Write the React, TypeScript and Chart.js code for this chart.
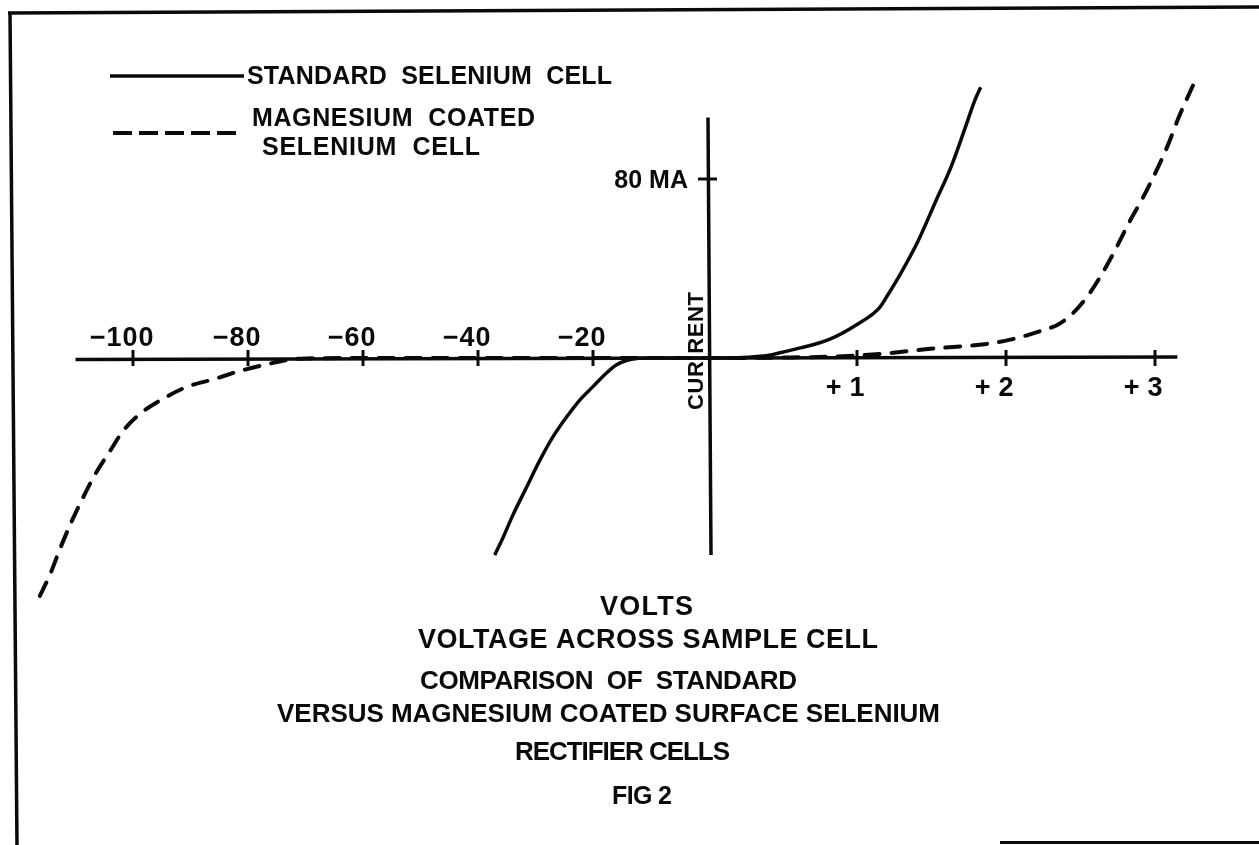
import React, { useEffect, useRef } from "react";
import { Chart, registerables } from "chart.js";

Chart.register(...registerables);

// ---------------- data (volts, milliamps) ----------------
const standardVolts = [
  -37.1, -35.7, -33.9, -31.6, -29.3, -27.0, -24.6, -22.3, -20.0, -17.7, -15.9, -14.2, -12.4, -10.0, 0,
  0.2, 0.35, 0.43, 0.5, 0.62, 0.81, 1.0, 1.15, 1.2, 1.29, 1.41, 1.53, 1.63, 1.72, 1.79, 1.83,
];
const standardCurrent = [
  -88.1, -80.6, -70, -58, -46, -35.4, -26.4, -18.8, -12.8, -6.8, -3.0, -1.1, -0.2, 0, 0,
  0.1, 0.75, 1.5, 2.6, 4.5, 8.2, 15, 22.4, 27.5, 37.4, 52.3, 70.3, 85.2, 101.7, 115, 121,
];
const magnesiumVolts = [
  -116.2, -114.4, -112.7, -110.7, -108.6, -106.6, -104.0, -101.7, -98.8, -95.3, -90.7, -86.0, -81.0, -77.0,
  -73.0, -70.0, -60.0, 0, 0.5, 0.86, 1.15, 1.51, 1.87, 2.03, 2.23, 2.35, 2.44, 2.54, 2.63, 2.73, 2.82, 2.92,
  3.02, 3.09, 3.16, 3.27,
];
const magnesiumCurrent = [
  -106.3, -96.6, -85.3, -73.2, -61.9, -52.1, -41.6, -32.5, -25.0, -19.0, -13.0, -9.5, -5.5, -3.0,
  -0.8, -0.2, 0, 0, 0.2, 0.7, 1.8, 4.2, 6.3, 8.2, 12, 15, 19.4, 27, 36, 47.9, 59.8, 71.8,
  85.2, 95.7, 107.7, 124,
];

const negativeTicks = [-100, -80, -60, -40, -20];
const negativeTickLabels = ["−100", "−80", "−60", "−40", "−20"];
const positiveTicks = [1, 2, 3];
const positiveTickLabels = ["+1", "+2", "+3"];
const currentTicks = [80];
const currentTickLabels = ["80 MA"];
const seriesNames = ["STANDARD SELENIUM CELL", "MAGNESIUM COATED SELENIUM CELL"];
const legendTexts = ["STANDARD  SELENIUM  CELL", "MAGNESIUM  COATED", "SELENIUM  CELL"];
const yAxisTitle = "CUR RENT";
const captionLines = [
  "VOLTS",
  "VOLTAGE ACROSS SAMPLE CELL",
  "COMPARISON  OF  STANDARD",
  "VERSUS MAGNESIUM COATED SURFACE SELENIUM",
  "RECTIFIER CELLS",
  "FIG 2",
];

// axis extents (data units)
const X_AXIS_FROM = -110; // volts
const X_AXIS_TO = 3.15;
const Y_AXIS_FROM = -88; // mA
const Y_AXIS_TO = 107.5;

// ---------------- layout / style ----------------
const W = 1259;
const H = 845;
const INK = "#0a0a0a";
const FONT = '"Liberation Sans", Arial, sans-serif';
// piecewise axis: 20 V per unit on the reverse side, 1 V = 149/115 unit forward
const toAxis = (v: number) => (v < 0 ? v / 20 : (v * 149) / 115);
const X_MIN = -708 / 115;
const X_MAX = (W - 708) / 115;
const Y_MAX = 358 / 2.2375;
const Y_MIN = -(H - 358) / 2.2375;

// text boxes: [left, right, centerY, size]
const legendBoxes: number[][] = [
  [247, 612, 75, 25],
  [252, 535, 117, 25],
  [262, 480, 146, 25],
];
const captionBoxes: number[][] = [
  [600, 693, 605, 27],
  [418, 878, 638, 27],
  [420, 797, 680, 26],
  [277, 940, 713, 26],
  [515, 730, 751, 26],
  [612, 672, 795, 25],
];

function fitText(ctx: CanvasRenderingContext2D, text: string, left: number, right: number, cy: number, size: number) {
  ctx.font = `bold ${size}px ${FONT}`;
  (ctx as any).letterSpacing = "0px";
  const w0 = ctx.measureText(text).width;
  const n = text.length;
  const ls = n > 1 ? (right - left - w0) / (n - 1) : 0;
  (ctx as any).letterSpacing = `${ls}px`;
  ctx.textAlign = "left";
  ctx.textBaseline = "alphabetic";
  ctx.fillText(text, left, cy + size * 0.36);
  (ctx as any).letterSpacing = "0px";
}

const sketchPlugin = {
  id: "sketch",
  beforeDatasetsDraw(chart: any) {
    const { ctx, scales } = chart;
    const px = (v: number) => scales.x.getPixelForValue(toAxis(v));
    const py = (c: number) => scales.y.getPixelForValue(c);
    const x0 = px(0);
    const y0 = py(0);
    ctx.save();
    ctx.strokeStyle = INK;
    ctx.lineCap = "butt";
    ctx.lineWidth = 3.5;
    ctx.beginPath();
    ctx.moveTo(px(X_AXIS_FROM), y0 + 1.5);
    ctx.lineTo(px(X_AXIS_TO), y0 - 1);
    ctx.stroke();
    ctx.beginPath();
    ctx.moveTo(x0, py(Y_AXIS_TO));
    ctx.lineTo(x0 + 3, py(Y_AXIS_FROM));
    ctx.stroke();
    ctx.lineWidth = 3;
    [...negativeTicks, ...positiveTicks].forEach((v) => {
      const tx = px(v);
      ctx.beginPath();
      ctx.moveTo(tx, y0 - 8);
      ctx.lineTo(tx, y0 + 8);
      ctx.stroke();
    });
    currentTicks.forEach((c) => {
      const ty = py(c);
      ctx.beginPath();
      ctx.moveTo(x0 - 10, ty);
      ctx.lineTo(x0 + 9, ty);
      ctx.stroke();
    });
    ctx.restore();
  },
  afterDraw(chart: any) {
    const { ctx, scales } = chart;
    const px = (v: number) => scales.x.getPixelForValue(toAxis(v));
    const py = (c: number) => scales.y.getPixelForValue(c);
    const x0 = px(0);
    const y0 = py(0);
    ctx.save();
    ctx.fillStyle = INK;
    ctx.strokeStyle = INK;

    // tick labels (digits centred on the tick, sign hanging to the left)
    const tickSize = 27;
    ctx.font = `bold ${tickSize}px ${FONT}`;
    ctx.textAlign = "left";
    ctx.textBaseline = "alphabetic";
    negativeTicks.forEach((v, i) => {
      const label = negativeTickLabels[i];
      (ctx as any).letterSpacing = "1px";
      const signW = ctx.measureText(label.slice(0, 1)).width + 3;
      const digW = ctx.measureText(label.slice(1)).width - 1;
      const tx = px(v);
      ctx.fillText(label, tx - signW - digW / 2, y0 - 22 + tickSize * 0.36);
    });
    positiveTicks.forEach((v, i) => {
      const label = positiveTickLabels[i];
      (ctx as any).letterSpacing = "8px";
      const signW = ctx.measureText(label.slice(0, 1)).width;
      (ctx as any).letterSpacing = "0px";
      const digW = ctx.measureText(label.slice(1)).width;
      (ctx as any).letterSpacing = "8px";
      const tx = px(v);
      ctx.fillText(label, tx - signW - digW / 2, y0 + 28 + tickSize * 0.36);
    });
    (ctx as any).letterSpacing = "0px";

    // current tick label
    currentTicks.forEach((c, i) => {
      ctx.font = `bold 25px ${FONT}`;
      ctx.textAlign = "right";
      ctx.fillText(currentTickLabels[i], x0 - 20, py(c) + 25 * 0.36);
    });

    // vertical axis title, split by the horizontal axis
    ctx.save();
    ctx.translate(x0 - 5, y0 + 52);
    ctx.rotate(-Math.PI / 2);
    ctx.font = `bold 22px ${FONT}`;
    (ctx as any).letterSpacing = "0px";
    const w0 = ctx.measureText(yAxisTitle).width;
    (ctx as any).letterSpacing = `${(118 - w0) / (yAxisTitle.length - 1)}px`;
    ctx.textAlign = "left";
    ctx.fillText(yAxisTitle, 0, 0);
    (ctx as any).letterSpacing = "0px";
    ctx.restore();

    // legend
    legendTexts.forEach((t, i) => {
      const b = legendBoxes[i];
      fitText(ctx, t, b[0], b[1], b[2], b[3]);
    });
    ctx.lineWidth = 3.5;
    ctx.lineCap = "butt";
    ctx.beginPath();
    ctx.moveTo(110, 76);
    ctx.lineTo(244, 76);
    ctx.stroke();
    ctx.lineWidth = 4;
    ctx.setLineDash([19, 7]);
    ctx.beginPath();
    ctx.moveTo(113, 133);
    ctx.lineTo(237, 133);
    ctx.stroke();
    ctx.setLineDash([]);

    // captions
    captionLines.forEach((t, i) => {
      const b = captionBoxes[i];
      fitText(ctx, t, b[0], b[1], b[2], b[3]);
    });

    // drawing frame
    ctx.lineWidth = 3.5;
    ctx.beginPath();
    ctx.moveTo(8, 13);
    ctx.lineTo(W, 7);
    ctx.stroke();
    ctx.beginPath();
    ctx.moveTo(10, 12);
    ctx.lineTo(17, H);
    ctx.stroke();
    ctx.lineWidth = 3;
    ctx.beginPath();
    ctx.moveTo(1000, 842.5);
    ctx.lineTo(W, 842.5);
    ctx.stroke();
    ctx.restore();
  },
};

export default function App() {
  const canvasRef = useRef<HTMLCanvasElement | null>(null);

  useEffect(() => {
    const canvas = canvasRef.current;
    if (!canvas) return;
    const chart = new Chart(canvas, {
      type: "line",
      data: {
        datasets: [
          {
            label: seriesNames[0],
            data: standardVolts.map((v, i) => ({ x: toAxis(v), y: standardCurrent[i] })),
            borderColor: INK,
            borderWidth: 3.5,
            pointRadius: 0,
            cubicInterpolationMode: "monotone",
            fill: false,
            clip: false as any,
          },
          {
            label: seriesNames[1],
            data: magnesiumVolts.map((v, i) => ({ x: toAxis(v), y: magnesiumCurrent[i] })),
            borderColor: INK,
            borderWidth: 4,
            borderDash: [15, 12],
            borderCapStyle: "round",
            pointRadius: 0,
            cubicInterpolationMode: "monotone",
            fill: false,
            clip: false as any,
          },
        ],
      },
      options: {
        responsive: false,
        animation: false,
        devicePixelRatio: 1,
        events: [],
        layout: { padding: 0 },
        scales: {
          x: { type: "linear", display: false, min: X_MIN, max: X_MAX },
          y: { type: "linear", display: false, min: Y_MIN, max: Y_MAX },
        },
        plugins: {
          legend: { display: false },
          tooltip: { enabled: false },
          title: { display: false },
        },
      },
      plugins: [sketchPlugin],
    });
    return () => chart.destroy();
  }, []);

  return (
    <div style={{ position: "absolute", left: 0, top: 0, width: W, height: H, background: "#fff", overflow: "hidden" }}>
      <canvas ref={canvasRef} width={W} height={H} style={{ display: "block", width: W, height: H }} />
    </div>
  );
}
